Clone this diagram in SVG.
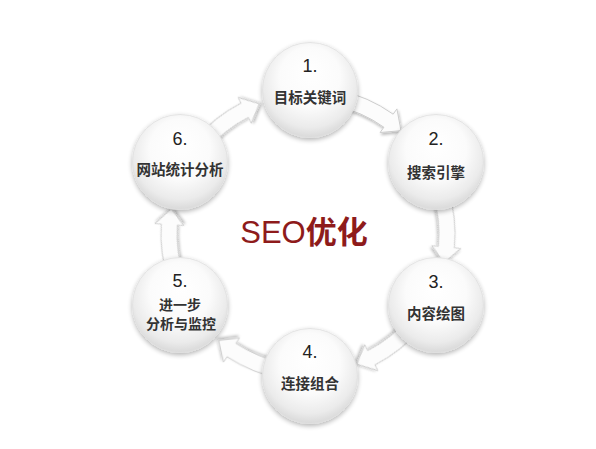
<svg xmlns="http://www.w3.org/2000/svg" width="596" height="449" viewBox="0 0 596 449">
<style>
.ball{fill:url(#ball);stroke:#e0e0e0;stroke-width:0.8;filter:url(#shadow)}
.arrow{fill:#fcfcfc;stroke:#cdcdcd;stroke-width:1;filter:url(#ashadow)}
.num{font-family:"Liberation Sans",Arial,sans-serif;font-size:18px;fill:#222222;text-anchor:middle}
.lbl{font-family:"Noto Sans CJK SC","Noto Sans CJK TC",sans-serif;font-weight:bold;font-size:14.5px;fill:#333333;text-anchor:middle}
.lbl2{font-family:"Noto Sans CJK SC","Noto Sans CJK TC",sans-serif;font-weight:bold;font-size:14px;fill:#333333;text-anchor:middle}
.title{font-family:"Liberation Sans","Noto Sans CJK SC",sans-serif;font-size:31px;fill:#8e1b1b;text-anchor:middle}
</style>
<defs>
<radialGradient id="ball" cx="0.5" cy="0.42" r="0.58" fx="0.5" fy="0.3">
<stop offset="0" stop-color="#ffffff"/>
<stop offset="0.55" stop-color="#fbfbfb"/>
<stop offset="0.85" stop-color="#ebebeb"/>
<stop offset="1" stop-color="#d9d9d9"/>
</radialGradient>
<filter id="shadow" x="-25%" y="-25%" width="150%" height="150%">
<feGaussianBlur in="SourceAlpha" stdDeviation="2.5"/>
<feOffset dx="0" dy="1.5"/>
<feComponentTransfer><feFuncA type="linear" slope="0.3"/></feComponentTransfer>
<feMerge><feMergeNode/><feMergeNode in="SourceGraphic"/></feMerge>
</filter>
<filter id="ashadow" x="-25%" y="-25%" width="150%" height="150%">
<feGaussianBlur in="SourceAlpha" stdDeviation="1.5"/>
<feOffset dx="0.5" dy="1.5"/>
<feComponentTransfer><feFuncA type="linear" slope="0.28"/></feComponentTransfer>
<feMerge><feMergeNode/><feMergeNode in="SourceGraphic"/></feMerge>
</filter>
<path id="arrowShape" d="M30.56,-143.79 A147,147 0 0 1 85.15,-119.82 L88.92,-125.12 L93.01,-103.30 L72.12,-101.48 L75.89,-106.78 A131,131 0 0 0 27.24,-128.14 Z"/>
</defs>
<rect width="596" height="449" fill="#ffffff"/>
<g id="connectors">
<use href="#arrowShape" class="arrow" transform="translate(308 234) rotate(0)"/>
<use href="#arrowShape" class="arrow" transform="translate(308 234) rotate(60)"/>
<use href="#arrowShape" class="arrow" transform="translate(308 234) rotate(117.5)"/>
<use href="#arrowShape" class="arrow" transform="translate(308 234) rotate(178)"/>
<use href="#arrowShape" class="arrow" transform="translate(308 234) rotate(238.5)"/>
<use href="#arrowShape" class="arrow" transform="translate(308 234) rotate(297.5)"/>
</g>
<g id="node1">
<circle class="ball" cx="310" cy="90" r="47.5"/>
<text class="num" x="310" y="72">1.</text>
<text class="lbl" x="310" y="103">目标关键词</text>
</g>
<g id="node2">
<circle class="ball" cx="436" cy="162" r="47.5"/>
<text class="num" x="436" y="145">2.</text>
<text class="lbl" x="436" y="178">搜索引擎</text>
</g>
<g id="node3">
<circle class="ball" cx="436" cy="305" r="47.5"/>
<text class="num" x="436" y="288">3.</text>
<text class="lbl" x="436" y="319">内容绘图</text>
</g>
<g id="node4">
<circle class="ball" cx="310" cy="376" r="47.5"/>
<text class="num" x="310" y="358">4.</text>
<text class="lbl" x="310" y="389">连接组合</text>
</g>
<g id="node5">
<circle class="ball" cx="180" cy="305" r="47.5"/>
<text class="num" x="180" y="287">5.</text>
<text class="lbl2" x="180" y="310">进一步</text>
<text class="lbl2" x="181" y="329">分析与监控</text>
</g>
<g id="node6">
<circle class="ball" cx="180" cy="162" r="47.5"/>
<text class="num" x="180" y="145">6.</text>
<text class="lbl" x="180" y="175">网站统计分析</text>
</g>
<g id="title">
<text class="title" x="304" y="243">SEO<tspan font-weight="bold">优化</tspan></text>
</g>
</svg>
